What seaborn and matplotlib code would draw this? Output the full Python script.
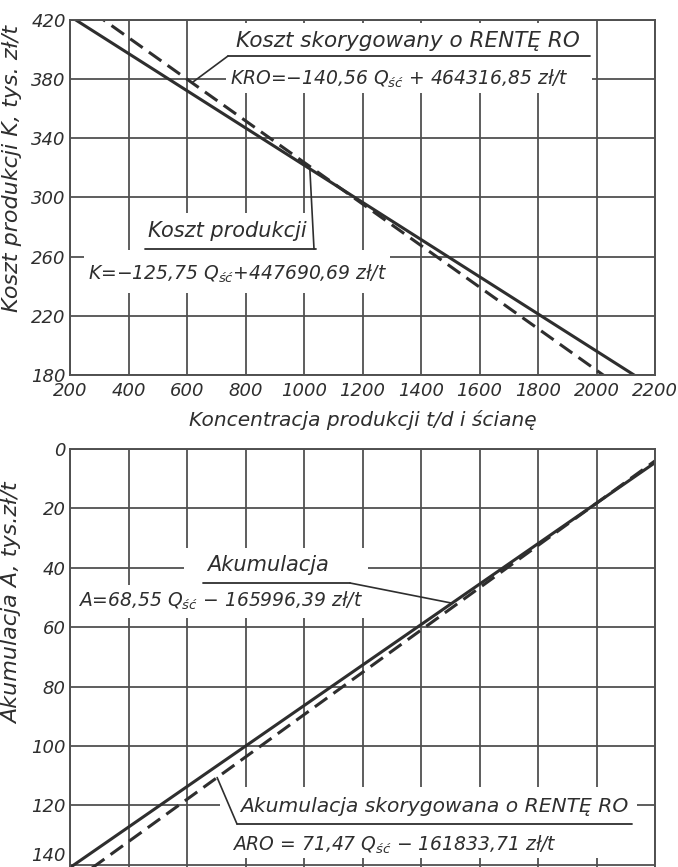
import numpy as np
import pandas as pd
import matplotlib
matplotlib.use("Agg")
import matplotlib.pyplot as plt
import seaborn as sns
from matplotlib.lines import Line2D
from matplotlib.patches import Rectangle

# ---------------- data ----------------
Q = [200, 2200]                      # Koncentracja produkcji t/d i ścianę
K = [422.5, 171.0]                   # Koszt produkcji, tys. zł/t
KRO = [436.2, 155.1]                 # Koszt skorygowany o rentę RO
A = [141.0, 4.6]                     # Akumulacja (plotted downward), tys. zł/t
ARO = [146.5, 4.0]                   # Akumulacja skorygowana o rentę RO

x_ticks = [200, 400, 600, 800, 1000, 1200, 1400, 1600, 1800, 2000, 2200]
top_yticks = [180, 220, 260, 300, 340, 380, 420]
bot_yticks = [0, 20, 40, 60, 80, 100, 120, 140]

# ---------------- style ----------------
INK = "#2e2e2e"
GRID = "#505050"
sns.set_theme(style="whitegrid", rc={
    "axes.edgecolor": GRID,
    "grid.color": GRID,
    "grid.linewidth": 1.3,
    "axes.linewidth": 1.4,
    "xtick.major.size": 0,
    "ytick.major.size": 0,
})
plt.rcParams["font.family"] = ["DejaVu Sans"]
plt.rcParams["font.style"] = "italic"
plt.rcParams["mathtext.fontset"] = "custom"
plt.rcParams["mathtext.it"] = "DejaVu Sans:italic"
plt.rcParams["mathtext.rm"] = "DejaVu Sans:italic"
plt.rcParams["text.color"] = INK

W, H = 678, 867
fig = plt.figure(figsize=(W / 100, H / 100), dpi=100)
fig.patch.set_facecolor("white")

# pixel geometry of the two panels
L, R = 70, 655
T1, B1 = 20, 375
T2, B2 = 449, 867

ax1 = fig.add_axes([L / W, 1 - B1 / H, (R - L) / W, (B1 - T1) / H])
ax2 = fig.add_axes([L / W, 1 - B2 / H, (R - L) / W, (B2 - T2) / H])

df = pd.DataFrame({"Q": Q, "K": K, "KRO": KRO, "A": A, "ARO": ARO})

LW = 2.2
sns.lineplot(data=df, x="Q", y="K", ax=ax1, color=INK, lw=LW)
sns.lineplot(data=df, x="Q", y="KRO", ax=ax1, color=INK, lw=LW)
ax1.lines[-1].set_dashes([5, 2.5])
sns.lineplot(data=df, x="Q", y="A", ax=ax2, color=INK, lw=LW)
sns.lineplot(data=df, x="Q", y="ARO", ax=ax2, color=INK, lw=LW)
ax2.lines[-1].set_dashes([5, 2.5])

FS_T = 13
for ax in (ax1, ax2):
    ax.set_facecolor("white")
    ax.set_axisbelow(True)
    ax.set_xlim(200, 2200)
    ax.set_xticks(x_ticks)
    for s in ax.spines.values():
        s.set_visible(True)
        s.set_color(GRID)
        s.set_linewidth(1.4)
    ax.tick_params(axis="both", labelsize=FS_T, colors=INK, pad=3)
    ax.grid(True)

ax1.set_ylim(180, 420)
ax1.set_yticks(top_yticks)
ax1.set_xticklabels([str(v) for v in x_ticks])
ax1.tick_params(axis="x", pad=5)
ax1.set_xlabel("Koncentracja produkcji t/d i ścianę", fontsize=14.5, color=INK, labelpad=7)
ax1.set_ylabel("Koszt produkcji K, tys. zł/t", fontsize=16, color=INK)
ax1.yaxis.set_label_coords(-0.082, 0.583)

ax2.set_ylim(140.8, 0)
ax2.set_yticks(bot_yticks)
ax2.set_xticklabels([])
ax2.set_xlabel("")
ax2.set_ylabel("Akumulacja A, tys.zł/t", fontsize=16, color=INK)
ax2.yaxis.set_label_coords(-0.082, 0.63)
ax2.spines["bottom"].set_visible(False)
lab = ax2.get_yticklabels()
lab[-1].set_verticalalignment("bottom")


# ---------------- annotations (pixel positions converted to axes fractions) ----------------
def fr(ax, px, py):
    if ax is ax1:
        return (px - L) / (R - L), (B1 - py) / (B1 - T1)
    return (px - L) / (R - L), (B2 - py) / (B2 - T2)


def blank(ax, x0, y0, x1, y1):
    fx0, fy1 = fr(ax, x0, y0)
    fx1, fy0 = fr(ax, x1, y1)
    ax.add_patch(Rectangle((fx0, fy0), fx1 - fx0, fy1 - fy0, transform=ax.transAxes,
                           facecolor="white", edgecolor="none", zorder=1.5))


def txt(ax, px, py, s, fs=13.5):
    fx, fy = fr(ax, px, py)
    ax.text(fx, fy, s, transform=ax.transAxes, ha="left", va="center",
            fontsize=fs, color=INK, zorder=4)


def seg(ax, p0, p1, lw=1.3):
    (x0, y0), (x1, y1) = fr(ax, *p0), fr(ax, *p1)
    ax.add_line(Line2D([x0, x1], [y0, y1], transform=ax.transAxes,
                       color=INK, lw=lw, zorder=4))


def leader(ax, p0, qx, series):
    yv = float(np.interp(qx, Q, series))
    fx, fy = fr(ax, *p0)
    ax.annotate("", xy=(qx, yv), xycoords="data", xytext=(fx, fy),
                textcoords="axes fraction",
                arrowprops=dict(arrowstyle="-", color=INK, lw=1.2, shrinkA=0, shrinkB=0),
                zorder=4)


QS = r"$Q_{ść}$"
FL = 15

# top: corrected cost
blank(ax1, 226, 23, 592, 93)
txt(ax1, 236, 41, "Koszt skorygowany o RENTĘ RO", 15.5)
seg(ax1, (228, 56), (590, 56))
txt(ax1, 230, 79, "KRO=−140,56 " + QS + " + 464316,85 zł/t")
leader(ax1, (228, 56), 617, KRO)

# top: production cost
blank(ax1, 144, 213, 320, 250)
blank(ax1, 84, 250, 390, 293)
txt(ax1, 148, 231, "Koszt produkcji", FL)
seg(ax1, (145, 249), (316, 249))
txt(ax1, 88, 274, "K=−125,75 " + QS + "+447690,69 zł/t")
leader(ax1, (314, 249), 1020, K)

# bottom: accumulation
blank(ax2, 184, 548, 368, 585)
blank(ax2, 74, 585, 368, 618)
txt(ax2, 207, 565, "Akumulacja", FL)
seg(ax2, (203, 583), (350, 583))
txt(ax2, 78, 601, "A=68,55 " + QS + " − 165996,39 zł/t")
leader(ax2, (350, 583), 1506, A)

# bottom: corrected accumulation
blank(ax2, 220, 787, 637, 858)
txt(ax2, 240, 806, "Akumulacja skorygowana o RENTĘ RO", 14.6)
seg(ax2, (237, 824), (632, 824))
txt(ax2, 232, 845, "ARO = 71,47 " + QS + " − 161833,71 zł/t")
leader(ax2, (237, 824), 703, ARO)

fig.savefig("out.png", dpi=100, facecolor="white")
